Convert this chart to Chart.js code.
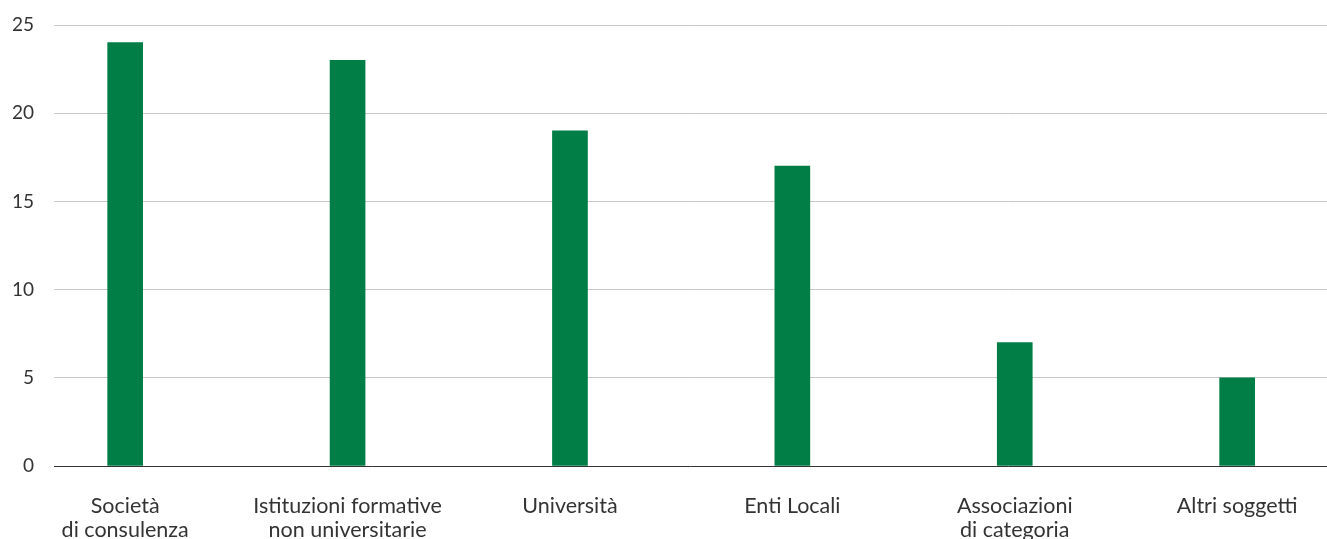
<!DOCTYPE html>
<html>
<head>
<meta charset="utf-8">
<script src="https://cdn.jsdelivr.net/npm/chart.js@4"></script>
<style>
  html, body { margin: 0; padding: 0; background: #fff; }
  #wrap { width: 1327px; height: 539px; }
</style>
</head>
<body>
<div id="wrap"><canvas id="barChart"></canvas></div>
<script>
// Categorie e valori
const categories = [
    ['Società', 'di consulenza'],
    ['Istituzioni formative', 'non universitarie'],
    'Università',
    'Enti Locali',
    ['Associazioni', 'di categoria'],
    'Altri soggetti'
];
const values = [24, 23, 19, 17, 7, 5];
const yTicks = [0, 5, 10, 15, 20, 25];

const barColor = '#007E46';
const gridColor = '#c8c8c8';
const zeroLineColor = '#333333';

document.addEventListener('DOMContentLoaded', function() {
    const ctx = document.getElementById('barChart').getContext('2d');
    const points = values.map((v, i) => ({ x: i, y: v }));

    new Chart(ctx, {
        type: 'bar',
        data: {
            datasets: [{
                data: points,
                backgroundColor: barColor,
                barThickness: 35,
                borderWidth: 0
            }]
        },
        options: {
            responsive: true,
            maintainAspectRatio: false,
            animation: false,
            layout: { padding: { top: 25, right: 0, left: 0, bottom: 0 } },
            plugins: {
                legend: { display: false },
                tooltip: { enabled: false }
            },
            scales: {
                x: {
                    type: 'linear',
                    offset: false,
                    min: -0.32,
                    max: 5.404,
                    grid: { display: false },
                    border: { display: false },
                    ticks: {
                        stepSize: 1,
                        includeBounds: false,
                        autoSkip: false,
                        maxRotation: 0,
                        padding: 20,
                        color: '#333',
                        font: { family: 'Lato', size: 21.5, lineHeight: 1.12 },
                        callback: function(value) {
                            return Number.isInteger(value) ? categories[value] : '';
                        }
                    },
                    afterFit: function(scale) { scale.height = 73; }
                },
                y: {
                    min: 0,
                    max: 25,
                    border: { display: false },
                    grid: {
                        drawTicks: false,
                        color: c => c.tick && c.tick.value === 0 ? zeroLineColor : gridColor,
                        lineWidth: 1
                    },
                    afterBuildTicks: function(scale) {
                        scale.ticks = yTicks.map(v => ({ value: v }));
                    },
                    ticks: {
                        padding: 20,
                        color: '#333',
                        font: { family: 'Lato', size: 19 }
                    },
                    afterFit: function(scale) {
                        scale.width = 54;
                        scale.paddingTop = 0;
                        scale.paddingBottom = 0;
                    }
                }
            }
        }
    });
});
</script>
</body>
</html>
